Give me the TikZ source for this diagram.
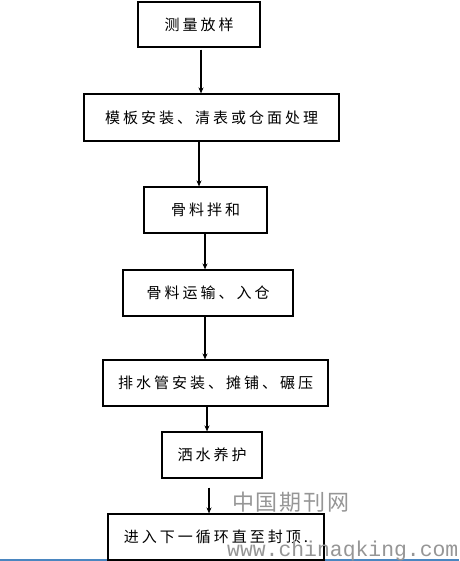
\documentclass[tikz,border=0pt]{standalone}
\usepackage{fontspec}
\usetikzlibrary{arrows.meta}
\newfontfamily\cjk[LetterSpace=20]{Noto Sans CJK SC}
\newfontfamily\cjkwm[LetterSpace=8]{Noto Sans CJK SC}
\newfontfamily\wmmono{Liberation Mono}
\definecolor{wmgray}{RGB}{150,150,150}
\definecolor{lineblue}{RGB}{74,134,192}
\tikzset{
  stepbox/.style={draw=black, line width=1.1pt, inner sep=0pt, align=center,
    font=\cjk\fontsize{15}{18}\selectfont, text=black},
  arr/.style={line width=1.1pt, -{Stealth[length=6pt,width=5pt]}},
}
\begin{document}
\begin{tikzpicture}[x=1pt,y=-1pt]
\useasboundingbox (0,0) rectangle (459,561);
\fill[white] (0,0) rectangle (459,561);
\draw[lineblue, line width=1.5pt] (0,560) -- (459,560);

\node[stepbox, minimum width=122, minimum height=45] (b1) at (199,24.5) {测量放样};
\node[stepbox, minimum width=255, minimum height=47] (b2) at (211.5,117.5) {模板安装、清表或仓面处理};
\node[stepbox, minimum width=123, minimum height=46] (b3) at (205.5,210) {骨料拌和};
\node[stepbox, minimum width=170, minimum height=46] (b4) at (208,293) {骨料运输、入仓};
\node[stepbox, minimum width=225, minimum height=46] (b5) at (215.5,383) {排水管安装、摊铺、碾压};
\node[stepbox, minimum width=100, minimum height=46] (b6) at (212,455) {洒水养护};
\node[stepbox, minimum width=216, minimum height=46] (b7) at (216,537) {进入下一循环直至封顶.};

\draw[arr] ([yshift=-2]b1.south -| 201,0) -- (b2.north -| 201,0);
\draw[arr] (b2.south -| 199,0) -- (b3.north -| 199,0);
\draw[arr] (b3.south -| 205,0) -- (b4.north -| 205,0);
\draw[arr] (b4.south -| 205,0) -- (b5.north -| 205,0);
\draw[arr] (b5.south -| 207,0) -- (b6.north -| 207,0);
\draw[arr] ([yshift=-9]b6.south -| 209,0) -- (b7.north -| 209,0);

\node[anchor=west, inner sep=0pt, text=wmgray, font=\cjkwm\fontsize{22}{24}\selectfont] (wm1) at (232,502) {中国期刊网};
\node[anchor=base west, inner sep=0pt, text=wmgray, font=\wmmono\fontsize{21.4}{24}\selectfont] (wm2) at (227,556) {www.chinaqking.com};
\end{tikzpicture}
\end{document}
